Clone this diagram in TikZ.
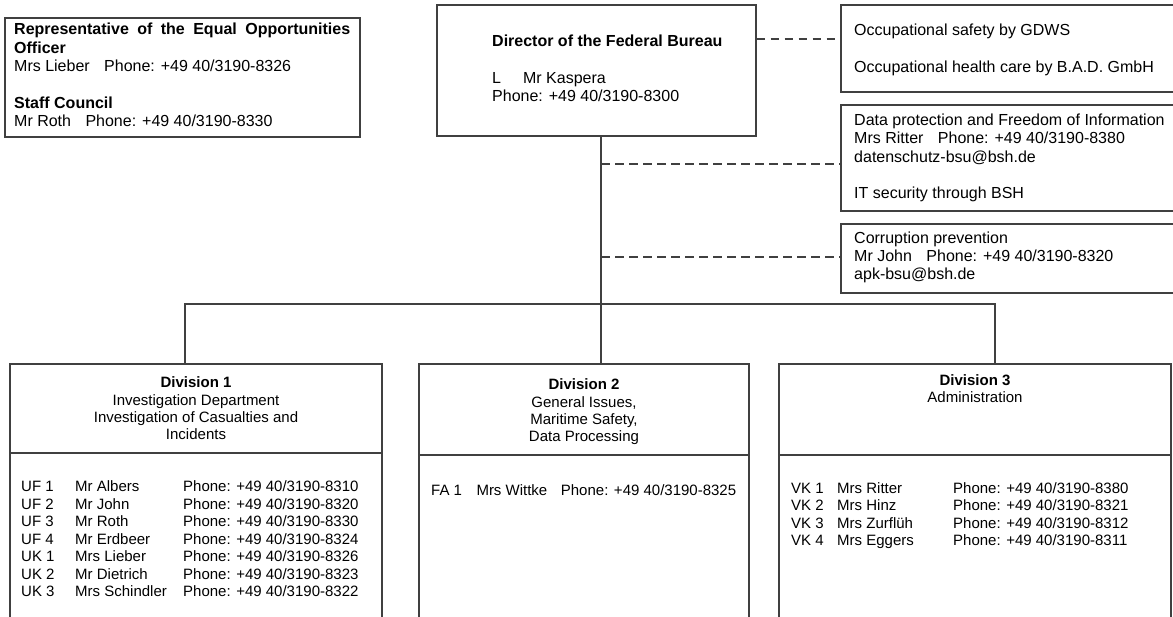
\documentclass[tikz,border=0pt]{standalone}
\usepackage{fontspec}
\setmainfont{Liberation Sans}
\usepackage{tikz}
\usetikzlibrary{positioning}

\tikzset{
  box/.style={draw=black!75, line width=1.4pt, rectangle, minimum width=#1, inner sep=0pt},
  line/.style={draw=black!75, line width=1.4pt},
  dline/.style={draw=black!75, line width=1.4pt, dash pattern=on 8.5pt off 5.5pt},
  toptext/.style={anchor=base west, inner sep=0pt, align=left, font=\fontsize{16}{18.4}\selectfont},
  divhead/.style={anchor=base, inner sep=0pt, align=center, font=\fontsize{15}{17.4}\selectfont},
  divlist/.style={anchor=base west, inner sep=0pt, font=\fontsize{15}{17.5}\selectfont}
}

\begin{document}
\begin{tikzpicture}[x=1pt, y=-1pt]
\useasboundingbox (0,0) rectangle (1173,617);
% boxes
\node [box=355pt, minimum height=119pt] (rep) at (182.5,77.5) {};
\node [box=319pt, minimum height=131pt] (dir) at (596.5,70.5) {};
\node [box=344pt, minimum height=87pt] (opa) at (1013,48.5) {};
\node [box=344pt, minimum height=106pt] (opb) at (1013,158) {};
\node [box=344pt, minimum height=69pt] (opc) at (1013,258.5) {};
\node [box=372pt, minimum height=290pt] (div1) at (196,509) {};
\node [box=330pt, minimum height=290pt] (div2) at (584,509) {};
\node [box=392pt, minimum height=290pt] (div3) at (975,509) {};
% trennlinien
\draw [line] (div1.west |- 0,453) -- (div1.east |- 0,453);
\draw [line] (div2.west |- 0,455) -- (div2.east |- 0,455);
\draw [line] (div3.west |- 0,455) -- (div3.east |- 0,455);
% verbindungen
\coordinate (bus) at (601,304);
\coordinate (b1) at (185,304);
\coordinate (b3) at (995,304);
\draw [line] (bus |- dir.south) -- (bus |- div2.north);
\draw [line] (b1 |- div1.north) -- (b1) -- (b3) -- (b3 |- div3.north);
\coordinate (d1) at (800,39);
\coordinate (d2) at (800,164);
\coordinate (d3) at (800,257);
\draw [dline] (dir.east |- d1) -- (opa.west |- d1);
\draw [dline] (bus |- d2) -- (opb.west |- d2);
\draw [dline] (bus |- d3) -- (opc.west |- d3);
% texte oben (Grundlinie der letzten Zeile)
\node [toptext] (reptxt) at (14,126.7) {\textbf{\makebox[336pt][s]{Representative of the Equal Opportunities}}\\
  \textbf{Officer}\\
  Mrs Lieber\hspace*{10pt} Phone: +49 40/3190-8326\\[18.4pt]
  \textbf{Staff Council}\\
  Mr Roth\hspace*{10pt} Phone: +49 40/3190-8330};
\node [toptext] (dirtxt) at (492,101.7) {\textbf{Director of the Federal Bureau}\\[18.4pt]
  L\hspace*{22pt}Mr Kaspera\\
  Phone: +49 40/3190-8300};
\node [toptext] (opatxt) at (854,72.3) {Occupational safety by GDWS\\[18.4pt]
  Occupational health care by B.A.D. GmbH};
\node [toptext] (opbtxt) at (854,199) {Data protection and Freedom of Information\\
  Mrs Ritter\hspace*{10pt} Phone: +49 40/3190-8380\\
  datenschutz-bsu@bsh.de\\[18.4pt]
  IT security through BSH};
\node [toptext] (opctxt) at (854,280) {Corruption prevention\\
  Mr John\hspace*{10pt} Phone: +49 40/3190-8320\\
  apk-bsu@bsh.de};
% abteilungen
\node [divhead] (h1) at (196,440) {\textbf{Division 1}\\ Investigation Department\\ Investigation of Casualties and\\ Incidents};
\node [divhead] (h2) at (584,442) {\textbf{Division 2}\\ General Issues,\\ Maritime Safety,\\ Data Processing};
\node [divhead] (h3) at (975,402.7) {\textbf{Division 3}\\ Administration};
\node [divlist] (l1) at (21,491.7) {\begin{tabular}[t]{@{}p{54pt}@{}p{108pt}@{}l@{}}
  UF 1 & Mr Albers & Phone: +49 40/3190-8310\\
  UF 2 & Mr John & Phone: +49 40/3190-8320\\
  UF 3 & Mr Roth & Phone: +49 40/3190-8330\\
  UF 4 & Mr Erdbeer & Phone: +49 40/3190-8324\\
  UK 1 & Mrs Lieber & Phone: +49 40/3190-8326\\
  UK 2 & Mr Dietrich & Phone: +49 40/3190-8323\\
  UK 3 & Mrs Schindler & Phone: +49 40/3190-8322
\end{tabular}};
\node [divlist] (l2) at (431,495) {\begin{tabular}[t]{@{}p{45.3pt}@{}p{84.4pt}@{}l@{}}
  FA 1 & Mrs Wittke & Phone: +49 40/3190-8325
\end{tabular}};
\node [divlist] (l3) at (791,493.3) {\begin{tabular}[t]{@{}p{46pt}@{}p{116pt}@{}l@{}}
  VK 1 & Mrs Ritter & Phone: +49 40/3190-8380\\
  VK 2 & Mrs Hinz & Phone: +49 40/3190-8321\\
  VK 3 & Mrs Zurflüh & Phone: +49 40/3190-8312\\
  VK 4 & Mrs Eggers & Phone: +49 40/3190-8311
\end{tabular}};
\end{tikzpicture}
\end{document}
